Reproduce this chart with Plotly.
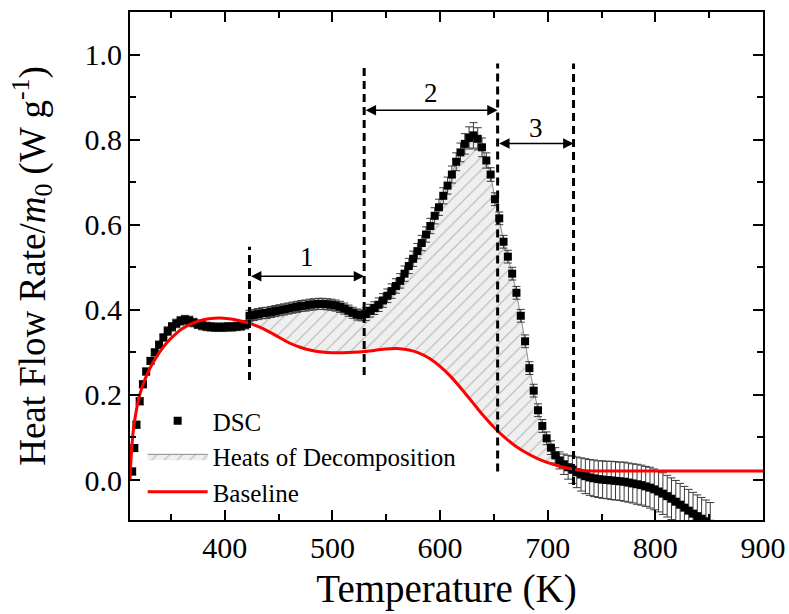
import numpy as np
import plotly.graph_objects as go

# DSC measurement: temperature (K), heat flow rate / m0 (W g^-1), standard deviation
dsc_T = [314, 316, 318, 321, 324, 327, 331, 335, 339, 343, 347, 351, 355, 359, 363,
         367, 371, 375, 379, 383, 387, 391, 395, 399, 403, 407, 411, 415, 419, 423,
         427, 431, 435, 439, 443, 447, 451, 455, 459, 463, 467, 471, 475, 479, 483,
         487, 491, 495, 499, 503, 507, 511, 515, 519, 523, 527, 531, 535, 539, 543,
         547, 551, 555, 559, 563, 567, 571, 575, 579, 583, 587, 591, 595, 599, 603,
         607, 611, 615, 619, 623, 627, 631, 635, 639, 643, 647, 651, 655, 659, 663,
         667, 671, 675, 679, 683, 687, 691, 695, 699, 703, 707, 711, 715, 719, 723,
         727, 731, 735, 739, 743, 747, 751, 755, 759, 763, 767, 771, 775, 779, 783,
         787, 791, 795, 799, 803, 807, 811, 815, 819, 823, 827, 831, 835, 839, 843,
         847, 851]
dsc_Q = [0.020, 0.075, 0.130, 0.185, 0.225, 0.255, 0.280, 0.300, 0.318, 0.335,
         0.350, 0.360, 0.368, 0.374, 0.377, 0.375, 0.370, 0.366, 0.363, 0.361,
         0.360, 0.359, 0.359, 0.359, 0.360, 0.360, 0.361, 0.362, 0.365, 0.386,
         0.388, 0.390, 0.392, 0.393, 0.395, 0.397, 0.399, 0.401, 0.403, 0.405,
         0.407, 0.409, 0.410, 0.412, 0.413, 0.414, 0.414, 0.413, 0.412, 0.410,
         0.407, 0.403, 0.398, 0.393, 0.389, 0.387, 0.390, 0.398, 0.404, 0.412,
         0.422, 0.433, 0.444, 0.456, 0.468, 0.485, 0.503, 0.520, 0.538, 0.557,
         0.577, 0.597, 0.621, 0.641, 0.668, 0.692, 0.718, 0.748, 0.770, 0.790,
         0.804, 0.810, 0.802, 0.782, 0.751, 0.718, 0.660, 0.615, 0.560, 0.525,
         0.485, 0.440, 0.386, 0.326, 0.263, 0.210, 0.164, 0.127, 0.098, 0.076,
         0.058, 0.046, 0.037, 0.030, 0.024, 0.018, 0.013, 0.009, 0.006, 0.004,
         0.002, 0.001, 0.000, -0.001, -0.002, -0.003, -0.004, -0.006, -0.008, -0.010,
         -0.012, -0.015, -0.018, -0.022, -0.027, -0.032, -0.038, -0.044, -0.051, -0.058,
         -0.065, -0.072, -0.079, -0.085, -0.091, -0.097, -0.103]
dsc_err = [0.008, 0.008, 0.008, 0.008, 0.008, 0.008, 0.008, 0.008, 0.008, 0.008,
           0.010, 0.010, 0.010, 0.010, 0.010, 0.010, 0.010, 0.010, 0.010, 0.010,
           0.010, 0.010, 0.010, 0.010, 0.010, 0.010, 0.010, 0.010, 0.010, 0.013,
           0.013, 0.013, 0.013, 0.013, 0.013, 0.013, 0.013, 0.013, 0.013, 0.013,
           0.013, 0.013, 0.013, 0.013, 0.013, 0.013, 0.013, 0.013, 0.013, 0.013,
           0.013, 0.013, 0.013, 0.013, 0.013, 0.013, 0.015, 0.015, 0.015, 0.016,
           0.016, 0.016, 0.017, 0.017, 0.017, 0.018, 0.018, 0.018, 0.018, 0.018,
           0.018, 0.018, 0.019, 0.019, 0.019, 0.020, 0.020, 0.021, 0.022, 0.024,
           0.026, 0.030, 0.026, 0.022, 0.018, 0.016, 0.015, 0.015, 0.015, 0.015,
           0.015, 0.015, 0.015, 0.015, 0.015, 0.015, 0.015, 0.015, 0.015, 0.016,
           0.018, 0.020, 0.024, 0.028, 0.032, 0.036, 0.039, 0.041, 0.042, 0.043,
           0.043, 0.044, 0.044, 0.045, 0.045, 0.045, 0.046, 0.046, 0.046, 0.047,
           0.047, 0.047, 0.048, 0.048, 0.048, 0.049, 0.049, 0.049, 0.050, 0.050,
           0.050, 0.050, 0.050, 0.050, 0.050, 0.050, 0.050]

# Fitted baseline
base_T = [312, 313, 315, 318, 321, 326, 331, 336, 341, 347, 353, 360, 368, 376, 385,
          395, 404, 413, 423, 432, 440, 450, 460, 470, 480, 490, 500, 510, 520, 530,
          540, 550, 560, 570, 580, 590, 600, 610, 620, 630, 640, 650, 660, 670, 680,
          690, 700, 710, 720, 730, 740, 750, 900]
base_Q = [0.000, 0.050, 0.115, 0.165, 0.200, 0.237, 0.265, 0.287, 0.306, 0.325,
          0.340, 0.355, 0.366, 0.374, 0.379, 0.381, 0.379, 0.375, 0.368, 0.360,
          0.350, 0.336, 0.322, 0.312, 0.305, 0.301, 0.299, 0.299, 0.300, 0.302,
          0.305, 0.308, 0.309, 0.306, 0.299, 0.286, 0.267, 0.243, 0.214, 0.183,
          0.152, 0.124, 0.100, 0.080, 0.064, 0.051, 0.041, 0.033, 0.027, 0.023,
          0.021, 0.021, 0.021]

# Decomposition stage boundaries (K) and the dashed marker extents
stage_T = [423, 529.5, 653.5, 724]
stage_top = [0.548, 0.979, 0.979, 0.979]
stage_bottom = [0.235, 0.247, 0.020, -0.012]
stage_labels = ["1", "2", "3"]
arrow_Q = [0.479, 0.869, 0.791]
label_Q = [0.524, 0.909, 0.827]

font_family = "Liberation Serif"

# Region between DSC signal and baseline across the three stages
T_lo, T_hi = stage_T[0], 727
dT = np.array(dsc_T, dtype=float)
dQ = np.array(dsc_Q, dtype=float)
bT = np.array(base_T, dtype=float)
bQ = np.array(base_Q, dtype=float)
sel = (dT >= T_lo) & (dT <= T_hi)
bsel = (bT > T_lo) & (bT < T_hi)
lower_T = np.concatenate([[T_lo], bT[bsel], [T_hi]])
lower_Q = np.interp(lower_T, bT, bQ)
poly_T = np.concatenate([dT[sel], lower_T[::-1]])
poly_Q = np.concatenate([dQ[sel], lower_Q[::-1]])

fig = go.Figure()

fig.add_trace(go.Scatter(
    x=poly_T, y=poly_Q, mode="lines", fill="toself",
    name="Heats of Decomposition",
    line=dict(color="#8c8c8c", width=1),
    fillcolor="#efefef",
    fillpattern=dict(shape="/", bgcolor="#efefef", fgcolor="#7a7a7a",
                     size=9, solidity=0.12),
    legendrank=2,
))

fig.add_trace(go.Scatter(
    x=dsc_T, y=dsc_Q, mode="markers", name="DSC",
    marker=dict(symbol="square", size=8, color="black"),
    error_y=dict(type="data", array=dsc_err, visible=True,
                 color="#3a3a3a", thickness=1, width=4),
    legendrank=1,
))

fig.add_trace(go.Scatter(
    x=base_T, y=base_Q, mode="lines", name="Baseline",
    line=dict(color="#ff0000", width=3, shape="spline", smoothing=0.8),
    legendrank=3,
))

# Dashed stage boundaries
for T, top, bot in zip(stage_T, stage_top, stage_bottom):
    fig.add_shape(type="line", xref="x", yref="y", x0=T, x1=T, y0=bot, y1=top,
                  line=dict(color="black", width=3, dash="8px,5px"))

# Double-headed arrows with stage numbers
for i, lab in enumerate(stage_labels):
    t0, t1 = stage_T[i], stage_T[i + 1]
    fig.add_annotation(x=t1, y=arrow_Q[i], ax=t0, ay=arrow_Q[i],
                       xref="x", yref="y", axref="x", ayref="y",
                       text="", showarrow=True, arrowside="end+start",
                       arrowhead=2, startarrowhead=2, arrowsize=1.3,
                       startarrowsize=1.3, arrowwidth=1.6, arrowcolor="black",
                       standoff=0, startstandoff=0)
    fig.add_annotation(x=(t0 + t1) / 2, y=label_Q[i], xref="x", yref="y",
                       text=lab, showarrow=False,
                       font=dict(family=font_family, size=27, color="black"))

axis_common = dict(
    showline=True, linecolor="black", linewidth=2, mirror="allticks",
    ticks="inside", ticklen=10, tickwidth=2, tickcolor="black",
    showgrid=False, zeroline=False, automargin=False,
    tickfont=dict(family=font_family, size=30, color="black"),
)

fig.update_xaxes(
    range=[312, 900], dtick=100, tick0=0,
    minor=dict(dtick=50, ticks="inside", ticklen=6, tickwidth=2, tickcolor="black"),
    title=dict(text="Temperature (K)",
               font=dict(family=font_family, size=39, color="black"), standoff=12),
    **axis_common,
)
fig.update_yaxes(
    range=[-0.094, 1.1], dtick=0.2, tick0=0, tickformat=".1f",
    minor=dict(dtick=0.1, ticks="inside", ticklen=6, tickwidth=2, tickcolor="black"),
    title=dict(text="Heat Flow Rate/<i>m</i><sub>0</sub> (W g<sup>-1</sup>)",
               font=dict(family=font_family, size=37, color="black"), standoff=28),
    **axis_common,
)

fig.update_layout(
    width=789, height=614,
    margin=dict(l=130, r=26, t=12, b=94),
    paper_bgcolor="white", plot_bgcolor="white",
    showlegend=True,
    legend=dict(x=0.02, y=0.24, xanchor="left", yanchor="top",
                bgcolor="rgba(0,0,0,0)", borderwidth=0,
                font=dict(family=font_family, size=25, color="black"),
                itemwidth=60, tracegroupgap=0),
)

fig.write_html("out.html")
